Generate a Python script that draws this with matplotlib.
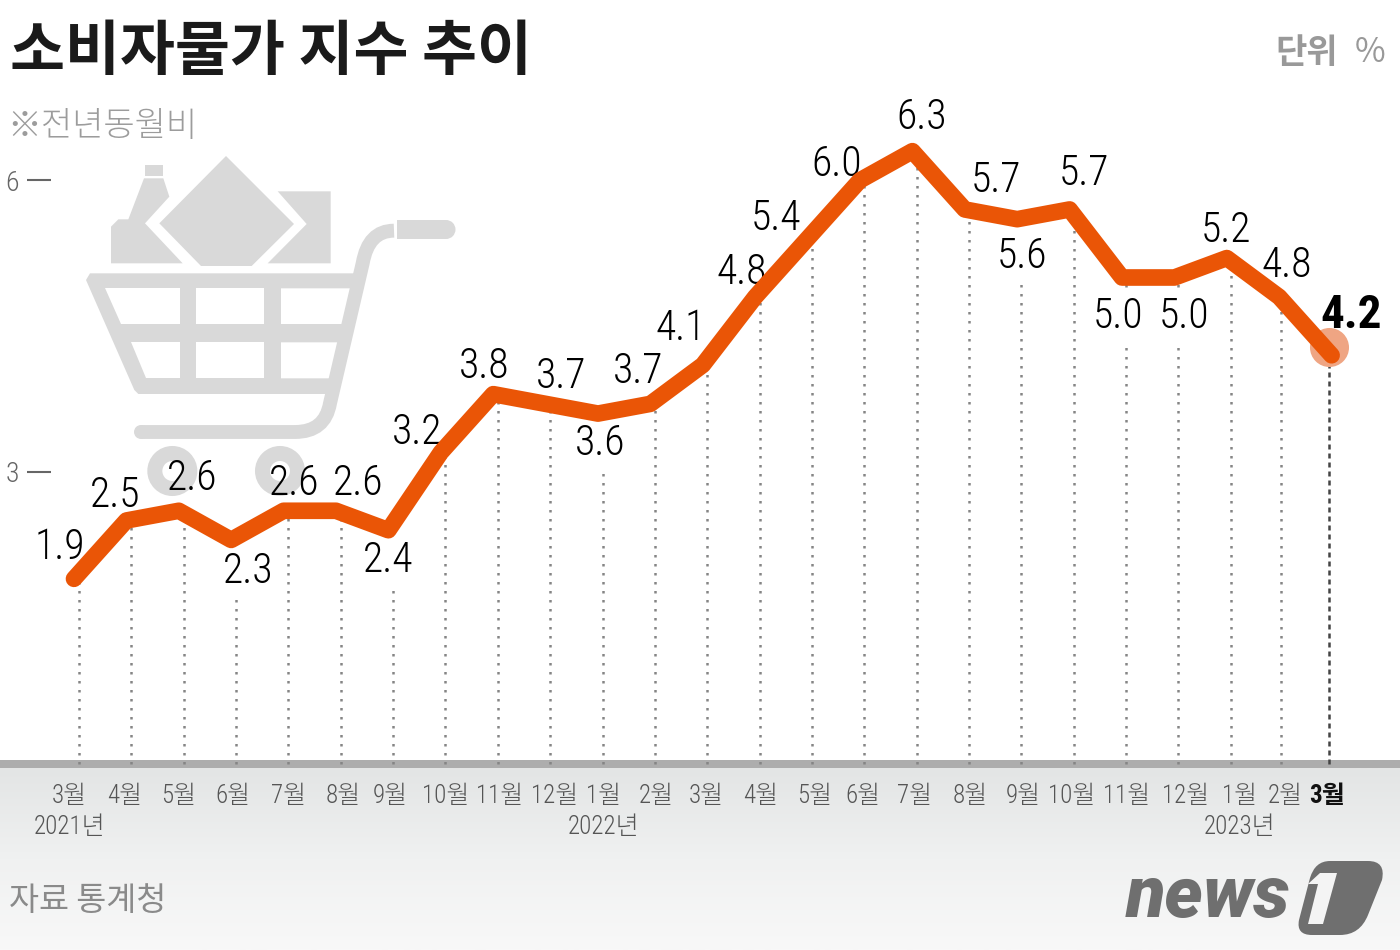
import matplotlib
matplotlib.use("Agg")
import matplotlib.pyplot as plt
import numpy as np
from matplotlib.patches import Polygon, Circle, PathPatch, Rectangle
from matplotlib.path import Path
from matplotlib.transforms import ScaledTranslation

months = ["3월", "4월", "5월", "6월", "7월", "8월", "9월", "10월", "11월", "12월", "1월", "2월", "3월",
          "4월", "5월", "6월", "7월", "8월", "9월", "10월", "11월", "12월", "1월", "2월", "3월"]
values = [1.9, 2.5, 2.6, 2.3, 2.6, 2.6, 2.4, 3.2, 3.8, 3.7, 3.6, 3.7, 4.1,
          4.8, 5.4, 6.0, 6.3, 5.7, 5.6, 5.7, 5.0, 5.0, 5.2, 4.8, 4.2]
y_ticks = [3, 6]
years = ["2021년", "2022년", "2023년"]

# label placement, pixels from the point
label_dx = [-14, -11, 13, 17, 11, 22, 0, -24, -9, 16, 2, -12, -22, -13, -32, -23, 9, 31, 5, 14, -4, 10, -1, 8, 20]
label_dy = [31, 25, 32, -32, 27, 27, -30, 20, 28, 27, -30, 32, 36, 24, 20, 16, 34, 29, -37, 36, -39, -39, 28, 31, 40]
month_dx = [-10, -7, -5, -3, 0, 2, -3, 0, 2, 4, 1, 1, -1, 1, 3, -1, -2, 1, 2, -2, 1, 7, 9, 4, -2]

ORANGE = "#ea5506"
CART = "#d9d9d9"
KR = "Noto Sans CJK JP"
NARROW = ["Roboto Condensed", KR]

fig = plt.figure(figsize=(14, 9.5), dpi=100)
W, H = 1400, 950

# background layer in pixel coordinates
bg = fig.add_axes([0, 0, 1, 1], zorder=0)
grad = np.linspace(0, 1, 100).reshape(-1, 1)
cm = matplotlib.colors.LinearSegmentedColormap.from_list("g", ["#e3e5e5", "#f0f1f1", "#f8f8f8"])
bg.imshow(grad, extent=[0, W, H, 768], cmap=cm, aspect="auto")
bg.set_xlim(0, W)
bg.set_ylim(H, 0)
bg.axis("off")
bg.add_patch(Rectangle((0, 760), W, 8, color="#adadad", lw=0))


def z(x, y):
    # cart outline was measured on a 3x crop starting at (0, 130)
    return (x / 3, y / 3 + 130)


def poly(pts, color=CART):
    bg.add_patch(Polygon([z(*p) for p in pts], closed=True, color=color, lw=0))


M, L, C = Path.MOVETO, Path.LINETO, Path.CURVE3
# goods
poly([(333, 400), (333, 290), (355, 268), (385, 268), (432, 145), (490, 145), (508, 200), (435, 280), (548, 400)])
poly([(434, 105), (489, 105), (489, 138), (434, 138)])
poly([(678, 78), (882, 282), (755, 408), (603, 408), (478, 280)])
poly([(833, 184), (992, 184), (992, 400), (803, 400), (920, 282)])
# basket with its six openings
poly([(258, 450), (270, 430), (1075, 430), (1005, 792), (415, 792), (403, 780)])
for hole in ([(316, 475), (540, 475), (540, 582), (363, 582)],
             [(588, 475), (793, 475), (793, 582), (588, 582)],
             [(843, 475), (1055, 475), (1030, 582), (843, 582)],
             [(392, 637), (540, 637), (540, 745), (438, 745)],
             [(588, 637), (793, 637), (793, 745), (588, 745)],
             [(843, 637), (1015, 637), (990, 745), (843, 745)]):
    poly(hole, "white")
# frame, handle, wheels
frame = Path([z(*p) for p in [(1182, 302), (1105, 302), (1088, 400), (990, 820), (975, 906), (885, 906), (423, 906)]],
             [M, C, C, L, C, C, L])
bg.add_patch(PathPatch(frame, fill=False, ec=CART, lw=10, capstyle="butt"))
bg.add_patch(Circle(z(423, 906), 7, color=CART, lw=0))
bg.add_patch(Rectangle((397, 220), 49, 19, color=CART, lw=0))
bg.add_patch(Circle((446, 229.5), 9.5, color=CART, lw=0))
for cx in (517, 840):
    bg.add_patch(Circle(z(cx, 1023), 17.5, fc="none", ec=CART, lw=10.8))

# main chart
ax = fig.add_axes([51 / W, (H - 763.5) / H, (W - 51) / W, 763.5 / H], zorder=1)
ax.patch.set_visible(False)
x = np.arange(len(values))
ax.set_xlim((51 - 74) / 52.4, (W - 74) / 52.4)
ax.set_ylim(0, 763.5 / 97.2)
for s in ax.spines.values():
    s.set_visible(False)

# the drop lines sit a little off the line's own vertices in the original
drop_x = 5 / 52.4 + x * 52.35 / 52.4
drop_x[-2:] -= np.array([2, 6]) / 52.4
ax.vlines(drop_x[:-1], 0, values[:-1], color="#858585", lw=1.8, linestyles=(0, (1, 2.6)), zorder=2, clip_on=False)
ax.vlines(drop_x[-1], 0, values[-1], color="#444444", lw=1.8, linestyles=(0, (2, 1.6)), zorder=2, clip_on=False)
ax.plot(x, values, color=ORANGE, lw=12, solid_capstyle="round", solid_joinstyle="round", zorder=5)
ax.scatter(x[-1], values[-1], s=790, color="#efa583", lw=0, zorder=4,
           transform=ax.transData + ScaledTranslation(-0.03, 0.08, fig.dpi_scale_trans))

for i, v in enumerate(values):
    below = label_dy[i] < 0
    last = i == len(values) - 1
    ax.annotate(f"{v:.1f}", (i, v), xytext=(label_dx[i], label_dy[i]), textcoords="offset pixels",
                ha="center", va="center", family=NARROW, color="black",
                fontsize=34 if last else 30, fontweight="bold" if last else 300, zorder=3,
                bbox=dict(fc="white", ec="none", pad=5) if below else None)

ax.set_xticks(drop_x, months)
ax.set_yticks(y_ticks, [str(t) for t in y_ticks])
ax.tick_params(axis="x", length=0, pad=14.5, labelsize=18, labelcolor="#555555")
ax.tick_params(axis="y", length=17.3, width=1.5, color="#666666", pad=6, labelsize=20, labelcolor="#666666")
for lab in ax.get_yticklabels():
    lab.set_family(NARROW)
    lab.set_fontweight(300)
for i, lab in enumerate(ax.get_xticklabels()):
    lab.set_family(NARROW)
    lab.set_fontweight(300)
    lab.set_transform(lab.get_transform() + ScaledTranslation(month_dx[i] / 100, 0, fig.dpi_scale_trans))
last_lab = ax.get_xticklabels()[-1]
last_lab.set_color("#111111")
last_lab.set_fontweight("bold")

for yr, i, dx in zip(years, (0, 10, 22), (-9, 1, 9)):
    ax.annotate(yr, (drop_x[i], 0), xytext=(dx, -63), textcoords="offset pixels", ha="center", va="center",
                family=NARROW, fontsize=18, fontweight=300, color="#555555", annotation_clip=False)

# titles
bg.text(10, 53, "소비자물가 지수 추이", family=KR, fontweight="bold", fontsize=43, color="#1a1a1a", ha="left", va="center")
bg.text(1275, 52, "단위", family=KR, fontweight="bold", fontsize=24.5, color="#999999", ha="left", va="center")
bg.text(1370, 53, "%", family=KR, fontsize=24, color="#999999", ha="center", va="center")
bg.text(7, 126, "※전년동월비", family=KR, fontweight=300, fontsize=24.5, color="#9c9c9c", ha="left", va="center")
bg.text(9, 901, "자료 통계청", family=KR, fontsize=23.5, color="#8a8a8a", ha="left", va="center")

# news1 logo
LOGO = "#6f6f6f"
bg.text(1126, 917, "news", family="Roboto", style="italic", fontweight=900, fontsize=52,
        color=LOGO, ha="left", va="baseline")
bg.add_patch(PathPatch(Path(
    [(1330, 861), (1368, 861), (1386, 861), (1382, 880), (1368, 915), (1360, 935), (1340, 935), (1312, 935),
     (1296, 935), (1299, 920), (1310, 878), (1315, 861), (1330, 861)],
    [M, L, C, C, L, C, C, L, C, C, L, C, C]), fc=LOGO, lw=0))
bg.add_patch(Polygon([(1320, 873), (1337, 873), (1323, 924), (1308, 924), (1318, 884), (1308, 884)], color="#f4f4f4", lw=0))

fig.savefig("out.png", dpi=100)
